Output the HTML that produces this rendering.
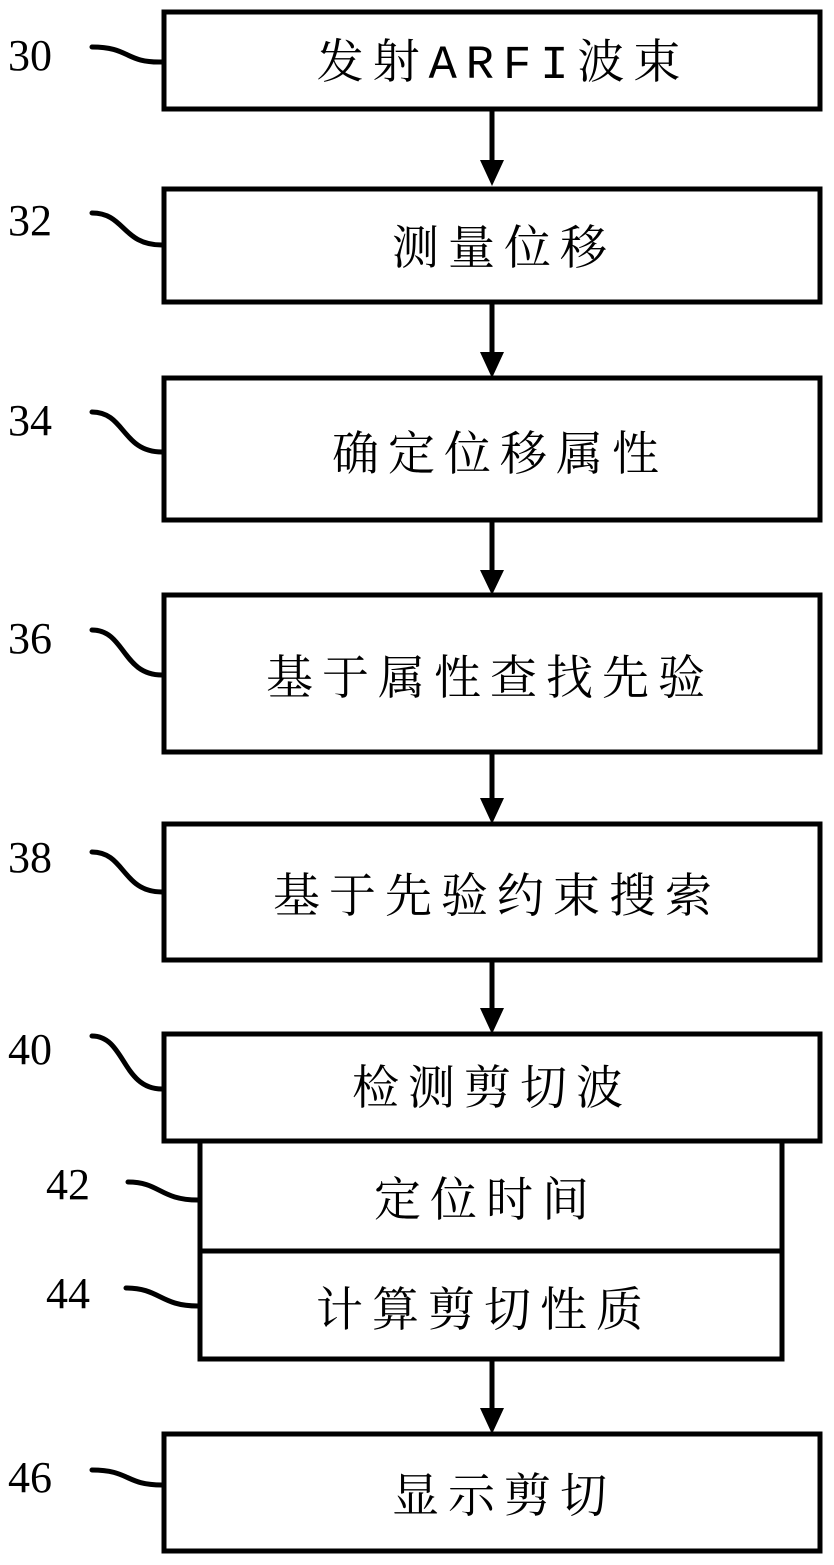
<!DOCTYPE html>
<html><head><meta charset="utf-8"><style>
body{margin:0;background:#fff}
svg text{font-family:"Liberation Serif","Noto Serif CJK SC",serif}
.m{font-family:"Liberation Mono","Noto Serif CJK SC",monospace}
</style></head><body>
<svg width="834" height="1560" viewBox="0 0 834 1560" xmlns="http://www.w3.org/2000/svg">
<g fill="none" stroke="#000" stroke-width="5">
<rect x="164" y="12" width="656" height="97"/>
<rect x="164" y="189" width="656" height="113"/>
<rect x="164" y="378" width="656" height="142"/>
<rect x="164" y="595" width="656" height="157"/>
<rect x="164" y="824" width="656" height="136"/>
<rect x="164" y="1034" width="656" height="107"/>
<rect x="200" y="1141" width="582" height="110"/>
<rect x="200" y="1251" width="582" height="108"/>
<rect x="164" y="1434" width="656" height="117"/>
</g>
<g fill="none" stroke="#000" stroke-width="5" stroke-linecap="round">
<path d="M92,47 C130,47 125,63 162,62"/>
<path d="M92,213 C125,213 122,245 162,245"/>
<path d="M92,412 C125,412 122,452 162,452"/>
<path d="M92,630 C125,630 122,675 162,675"/>
<path d="M92,852 C125,852 122,892 162,892"/>
<path d="M92,1036 C125,1036 122,1089 162,1089"/>
<path d="M128,1182 C160,1182 160,1200 198,1200"/>
<path d="M126,1288 C160,1288 160,1306 198,1306"/>
<path d="M92,1470 C130,1470 125,1485 162,1485"/>
<path d="M492,109 V162 M492,302 V354 M492,520 V572 M492,752 V800 M492,960 V1010 M492,1359 V1410"/>
</g>
<g fill="#000">
<path d="M480,160 L504,160 L492,186Z"/>
<path d="M480,352 L504,352 L492,378Z"/>
<path d="M480,570 L504,570 L492,595Z"/>
<path d="M480,798 L504,798 L492,824Z"/>
<path d="M480,1008 L504,1008 L492,1034Z"/>
<path d="M480,1408 L504,1408 L492,1434Z"/>
</g>
<g font-size="44" fill="#000">
<text x="8" y="70">30</text>
<text x="8" y="235">32</text>
<text x="8" y="435">34</text>
<text x="8" y="653">36</text>
<text x="8" y="872">38</text>
<text x="8" y="1064">40</text>
<text x="46" y="1199">42</text>
<text x="46" y="1308">44</text>
<text x="8" y="1492">46</text>
</g>
<g font-size="47" fill="#000" text-anchor="middle" letter-spacing="9">
<text x="503" y="78" class="m">发射ARFI波束</text>
<text x="504" y="264">测量位移</text>
<text x="500" y="470">确定位移属性</text>
<text x="490" y="694">基于属性查找先验</text>
<text x="497" y="912">基于先验约束搜索</text>
<text x="492" y="1104">检测剪切波</text>
<text x="486" y="1216">定位时间</text>
<text x="484" y="1326">计算剪切性质</text>
<text x="504" y="1512">显示剪切</text>
</g>
</svg>
</body></html>
